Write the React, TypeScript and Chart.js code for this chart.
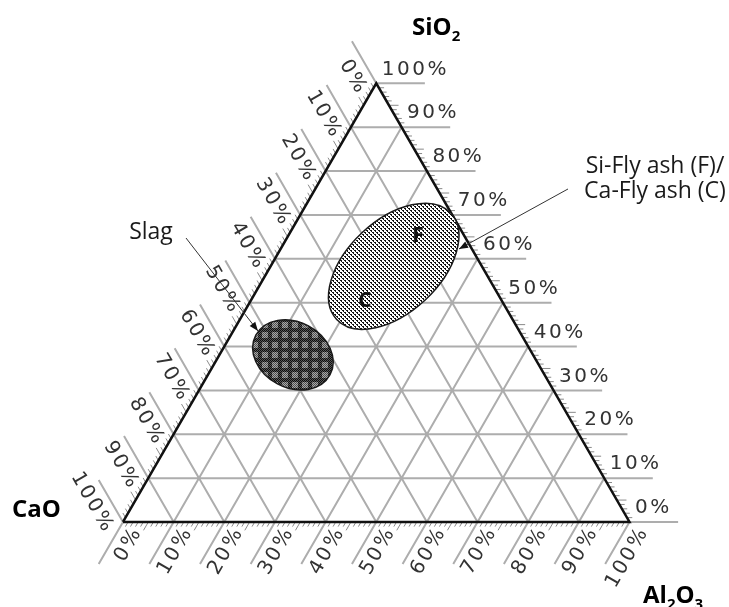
import { useEffect, useRef } from "react";
import { Chart, registerables } from "chart.js";

Chart.register(...registerables);

// ---------------- data ----------------
const GRID_STEPS = [10, 20, 30, 40, 50, 60, 70, 80, 90];
const SCALE_VALUES = [0, 10, 20, 30, 40, 50, 60, 70, 80, 90, 100];
const SCALE_LABELS = ["0%", "10%", "20%", "30%", "40%", "50%", "60%", "70%", "80%", "90%", "100%"];
const MINOR_STEP = 1;

// regions (composition of centre in %, spread in %, tilt in degrees)
const REGION_NAMES = ["Fly ash", "Slag"];
const REGION_CAO = [17.4, 47.4];
const REGION_SIO2 = [58.3, 38.1];
const REGION_AL2O3 = [24.3, 14.5];
const REGION_SPREAD_MAJOR = [15.4, 8.3];
const REGION_SPREAD_MINOR = [9.1, 6.5];
const REGION_TILT = [43, -28];

const FLYASH_TEXT = ["Si-Fly ash (F)/", "Ca-Fly ash (C)"];
const SLAG_TEXT = "Slag";
const SUB_TYPES = ["F", "C"];

// ---------------- helpers ----------------
const K = Math.sqrt(3) / 2;
function tern(ca: number, si: number, al: number) {
  const s = ca + si + al;
  return { x: ((al + si / 2) / s) * 100, y: ((si * K) / s) * 100 };
}
type Pt = { x: number | null; y: number | null };
const GAP: Pt = { x: null, y: null };

function seg(arr: Pt[], a: { x: number; y: number }, b: { x: number; y: number }) {
  arr.push({ x: a.x, y: a.y }, { x: b.x, y: b.y }, GAP);
}

const EXT = 9.6;
const DIR_SI = { x: 1, y: 0 };
const DIR_CA = { x: -0.5, y: K };
const DIR_AL = { x: -0.5, y: -K };

function buildGrid() {
  const out: Pt[] = [];
  GRID_STEPS.forEach((v) => {
    seg(out, tern(100 - v, v, 0), tern(0, v, 100 - v));
    seg(out, tern(100 - v, 0, v), tern(0, 100 - v, v));
    seg(out, tern(v, 0, 100 - v), tern(v, 100 - v, 0));
  });
  SCALE_VALUES.forEach((v) => {
    const a = tern(0, v, 100 - v);
    seg(out, a, { x: a.x + DIR_SI.x * EXT, y: a.y + DIR_SI.y * EXT });
    const b = tern(v, 100 - v, 0);
    seg(out, b, { x: b.x + DIR_CA.x * EXT, y: b.y + DIR_CA.y * EXT });
    const c = tern(100 - v, 0, v);
    seg(out, c, { x: c.x + DIR_AL.x * EXT, y: c.y + DIR_AL.y * EXT });
  });
  return out;
}

function buildTicks() {
  const out: Pt[] = [];
  for (let v = MINOR_STEP; v < 100; v += MINOR_STEP) {
    if (v % 10 === 0) continue;
    const L = v % 5 === 0 ? 1.9 : 1.05;
    const a = tern(0, v, 100 - v);
    seg(out, a, { x: a.x + DIR_SI.x * L, y: a.y + DIR_SI.y * L });
    const b = tern(v, 100 - v, 0);
    seg(out, b, { x: b.x + DIR_CA.x * L, y: b.y + DIR_CA.y * L });
    const c = tern(100 - v, 0, v);
    seg(out, c, { x: c.x + DIR_AL.x * L, y: c.y + DIR_AL.y * L });
  }
  return out;
}

function buildEdges() {
  const a = tern(100, 0, 0), b = tern(0, 0, 100), c = tern(0, 100, 0);
  return [a, b, c, a];
}

function makePatterns(ctx: CanvasRenderingContext2D) {
  const t1 = document.createElement("canvas");
  t1.width = 4; t1.height = 4;
  const c1 = t1.getContext("2d")!;
  c1.fillStyle = "#ffffff"; c1.fillRect(0, 0, 4, 4);
  c1.fillStyle = "#111111";
  [[0, 0], [1, 0], [1, 1], [2, 2], [3, 2], [3, 3]].forEach(([x, y]) => c1.fillRect(x, y, 1, 1));
  const t2 = document.createElement("canvas");
  t2.width = 10; t2.height = 10;
  const c2 = t2.getContext("2d")!;
  for (let i = 0; i < 10; i++) for (let j = 0; j < 10; j++) {
    const fine = (i + j) % 2 === 0;
    const block = i >= 2 && i <= 7 && j >= 2 && j <= 7;
    c2.fillStyle = block ? (fine ? "#505050" : "#a8a8a8") : (fine ? "#0d0d0d" : "#5a5a5a");
    c2.fillRect(i, j, 1, 1);
  }
  return [ctx.createPattern(t1, "repeat")!, ctx.createPattern(t2, "repeat")!];
}

function drawChem(ctx: CanvasRenderingContext2D, parts: [string, boolean][], x: number, y: number, size: number) {
  let cx = x;
  parts.forEach(([t, sub]) => {
    ctx.font = `bold ${sub ? Math.round(size * 0.62) : size}px "Open Sans"`;
    ctx.fillText(t, cx, sub ? y + size * 0.25 : y);
    cx += ctx.measureText(t).width;
  });
}

function arrow(ctx: CanvasRenderingContext2D, x1: number, y1: number, x2: number, y2: number) {
  ctx.beginPath();
  ctx.moveTo(x1, y1);
  ctx.lineTo(x2, y2);
  ctx.lineWidth = 1;
  ctx.strokeStyle = "#333";
  ctx.stroke();
  const ang = Math.atan2(y2 - y1, x2 - x1);
  const L = 9, W = 3.5;
  ctx.beginPath();
  ctx.moveTo(x2, y2);
  ctx.lineTo(x2 - L * Math.cos(ang) + W * Math.sin(ang), y2 - L * Math.sin(ang) - W * Math.cos(ang));
  ctx.lineTo(x2 - L * Math.cos(ang) - W * Math.sin(ang), y2 - L * Math.sin(ang) + W * Math.cos(ang));
  ctx.closePath();
  ctx.fillStyle = "#111";
  ctx.fill();
}

const overlay = {
  id: "ternaryOverlay",
  afterDatasetsDraw(chart: any) {
    const ctx: CanvasRenderingContext2D = chart.ctx;
    const sx = chart.scales.x, sy = chart.scales.y;
    const P = (p: { x: number; y: number }) => ({ x: sx.getPixelForValue(p.x), y: sy.getPixelForValue(p.y) });
    const unit = sx.getPixelForValue(1) - sx.getPixelForValue(0);
    const patterns = makePatterns(ctx);
    ctx.save();

    // regions
    REGION_NAMES.forEach((_, i) => {
      const c = P(tern(REGION_CAO[i], REGION_SIO2[i], REGION_AL2O3[i]));
      ctx.beginPath();
      ctx.ellipse(c.x, c.y, REGION_SPREAD_MAJOR[i] * unit, REGION_SPREAD_MINOR[i] * unit,
        (-REGION_TILT[i] * Math.PI) / 180, 0, Math.PI * 2);
      ctx.fillStyle = patterns[i];
      ctx.fill();
      ctx.lineWidth = 1.5;
      ctx.strokeStyle = "#1a1a1a";
      ctx.stroke();
    });

    // F / C
    ctx.fillStyle = "#111";
    ctx.font = 'bold 21px "Open Sans"';
    ctx.textAlign = "center";
    ctx.textBaseline = "middle";
    const fPos = P({ x: 58.24, y: 56.47 });
    const cPos = P({ x: 47.78, y: 43.63 });
    ctx.fillText(SUB_TYPES[0], fPos.x, fPos.y);
    ctx.fillText(SUB_TYPES[1], cPos.x, cPos.y);

    // scale labels
    (ctx as any).letterSpacing = "2.5px";
    ctx.font = '20px "DejaVu Sans"';
    ctx.fillStyle = "#333";
    ctx.textBaseline = "middle";
    SCALE_VALUES.forEach((v, i) => {
      const lab = SCALE_LABELS[i];
      // SiO2 (right side)
      const a = P(tern(0, v, 100 - v));
      ctx.textAlign = "left";
      ctx.fillText(lab, a.x + 5.5, a.y - 14);
      // CaO (left side)
      const b = P(tern(v, 100 - v, 0));
      ctx.save();
      ctx.translate(b.x, b.y);
      ctx.rotate(Math.PI / 3);
      ctx.textAlign = "right";
      ctx.fillText(lab, 1.5, 17);
      ctx.restore();
      // Al2O3 (bottom)
      const c = P(tern(100 - v, 0, v));
      ctx.save();
      ctx.translate(c.x, c.y);
      ctx.rotate(-Math.PI / 3);
      ctx.textAlign = "right";
      ctx.fillText(lab, 2, 16);
      ctx.restore();
    });
    (ctx as any).letterSpacing = "0px";

    // component titles
    ctx.fillStyle = "#000";
    ctx.textAlign = "left";
    ctx.textBaseline = "alphabetic";
    const tSi = P({ x: 57.06, y: 96.15 });
    drawChem(ctx, [["SiO", false], ["2", true]], tSi.x, tSi.y, 24);
    const tCa = P({ x: -21.92, y: 0.99 });
    drawChem(ctx, [["CaO", false]], tCa.x, tCa.y, 24);
    const tAl = P({ x: 102.67, y: -15.99 });
    drawChem(ctx, [["Al", false], ["2", true], ["O", false], ["3", true]], tAl.x, tAl.y, 24);

    // annotations
    ctx.font = '23px "Open Sans"';
    ctx.fillStyle = "#1a1a1a";
    ctx.textAlign = "center";
    const s = P({ x: 5.53, y: 55.87 });
    ctx.fillText(SLAG_TEXT, s.x, s.y);
    const f1 = P({ x: 105.03, y: 68.9 });
    const f2 = P({ x: 105.03, y: 63.97 });
    ctx.fillText(FLYASH_TEXT[0], f1.x, f1.y);
    ctx.fillText(FLYASH_TEXT[1], f2.x, f2.y);

    const a1 = P({ x: 12.44, y: 56.07 }), a2 = P({ x: 26.65, y: 37.71 });
    arrow(ctx, a1.x, a1.y, a2.x, a2.y);
    const b1 = P({ x: 87.86, y: 65.75 }), b2 = P({ x: 66.34, y: 53.9 });
    arrow(ctx, b1.x, b1.y, b2.x, b2.y);

    ctx.restore();
  },
};

export default function App() {
  const ref = useRef<HTMLCanvasElement>(null);
  useEffect(() => {
    const chart = new Chart(ref.current!, {
      type: "scatter",
      data: {
        datasets: [
          {
            label: "edges",
            data: buildEdges(),
            showLine: true,
            borderColor: "#111",
            borderWidth: 2.5,
            pointRadius: 0,
            order: 0,
          },
          {
            label: "ticks",
            data: buildTicks() as any,
            showLine: true,
            borderColor: "#8a8a8a",
            borderWidth: 1,
            pointRadius: 0,
            spanGaps: false,
            order: 1,
          },
          {
            label: "grid",
            data: buildGrid() as any,
            showLine: true,
            borderColor: "#adadad",
            borderWidth: 2,
            pointRadius: 0,
            spanGaps: false,
            order: 2,
          },
        ],
      },
      options: {
        animation: false,
        responsive: false,
        events: [],
        layout: { padding: 0 },
        plugins: { legend: { display: false }, tooltip: { enabled: false } },
        scales: {
          x: { type: "linear", display: false, min: -24.284, max: 119.645, bounds: "data" },
          y: { type: "linear", display: false, min: -16.782, max: 103.06, bounds: "data" },
        },
      },
      plugins: [overlay],
    });
    return () => chart.destroy();
  }, []);
  return (
    <div style={{ position: "absolute", left: 0, top: 0, width: 729, height: 607, background: "#fff" }}>
      <canvas ref={ref} width={729} height={607} style={{ display: "block", width: 729, height: 607 }} />
    </div>
  );
}
